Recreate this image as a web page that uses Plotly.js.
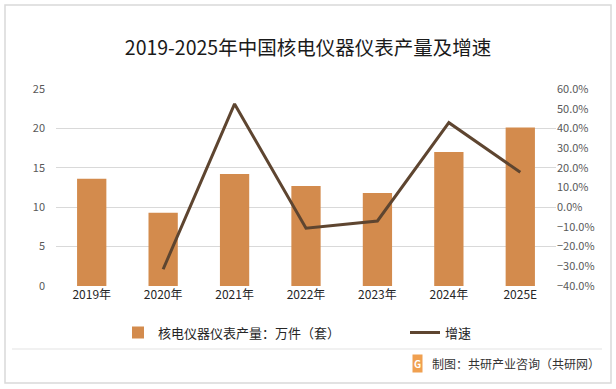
<!DOCTYPE html>
<html><head><meta charset="utf-8">
<script src="https://cdn.plot.ly/plotly-3.0.1.min.js"></script>
<style>html,body{margin:0;padding:0;background:#fff}#c{width:616px;height:389px}</style>
</head><body><div id="c"></div>
<script>
const years = ['2019年','2020年','2021年','2022年','2023年','2024年','2025E'];
const output = [13.6, 9.3, 14.2, 12.7, 11.8, 17.0, 20.1];
const growth = [null, -31.5, 52.4, -10.7, -7.0, 42.9, 17.7];
const barName = '核电仪器仪表产量：万件（套）';
const lineName = '增速';
const titleText = '2019-2025年中国核电仪器仪表产量及增速';
const sourceText = '制图：共研产业咨询（共研网）';

const font = 'Microsoft YaHei, "Noto Sans CJK SC", sans-serif';
const traces = [
  {type:'bar', x:years, y:output, name:barName, marker:{color:'#D38B4D'}, yaxis:'y', legend:'legend'},
  {type:'scatter', mode:'lines', x:years, y:growth, name:lineName, yaxis:'y2', legend:'legend2',
   line:{color:'#5E4530', width:3}, connectgaps:false}
];
const legBase = {orientation:'h', xanchor:'left', y:-0.16, yanchor:'top',
          font:{size:13, color:'#262626'}, itemwidth:30, bgcolor:'rgba(0,0,0,0)'};
const layout = {
  width:616, height:389,
  margin:{l:56, r:60, t:89, b:103},
  paper_bgcolor:'#fff', plot_bgcolor:'#fff',
  font:{family:font, color:'#404040'},
  showlegend:true,
  bargap:0.59,
  title:{text:titleText, x:0.5, xanchor:'center', y:0.875, yanchor:'middle',
         font:{size:19.5, color:'#1a1a1a', family:'"Noto Sans CJK SC", sans-serif'}},
  xaxis:{type:'category', tickfont:{size:12, color:'#262626'}, showline:false, ticks:'', showgrid:false},
  yaxis:{range:[0,25], dtick:5, showgrid:true, gridcolor:'#d9d9d9', gridwidth:1, zeroline:false,
         tickfont:{size:11, color:'#595959'}, ticks:'', ticklabelstandoff:10},
  yaxis2:{overlaying:'y', side:'right', range:[-40,60], dtick:10, showgrid:false, zeroline:false,
          tickformat:'.1f', ticksuffix:'%', tickfont:{size:11, color:'#595959'}, ticks:''},
  legend:Object.assign({}, legBase, {x:(118-56)/500}),
  legend2:Object.assign({}, legBase, {x:(405-56)/500}),
  shapes:[
    {type:'rect', xref:'paper', yref:'paper', x0:-51/500, x1:555/500, y0:-97/197, y1:(286-5)/197,
     line:{color:'#d9d9d9', width:1.5}, fillcolor:'rgba(0,0,0,0)', layer:'below'},
    {type:'line', xref:'paper', yref:'paper', x0:-44/500, x1:546/500, y0:-(349-286)/197, y1:-(349-286)/197,
     line:{color:'#e3e3e3', width:1}}
  ],
  annotations:[
    {xref:'paper', yref:'paper', x:(602-56)/500, y:-(363-286)/197, xanchor:'right', yanchor:'middle',
     text:sourceText, showarrow:false, font:{size:12, color:'#333'}},
    {xref:'paper', yref:'paper', x:(417-56)/500, y:-(363-286)/197, xanchor:'center', yanchor:'middle',
     text:'<b>G</b>', showarrow:false, bgcolor:'#F0A050', font:{size:10, color:'#fff'}, borderpad:1}
  ]
};
Plotly.newPlot('c', traces, layout, {staticPlot:true});
</script></body></html>
